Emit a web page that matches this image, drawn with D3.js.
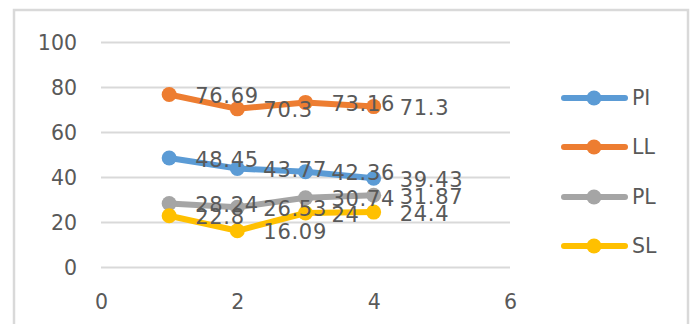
<!DOCTYPE html>
<html>
<head>
<meta charset="utf-8">
<script src="https://cdn.jsdelivr.net/npm/d3@7"></script>
<style>
  html, body { margin: 0; padding: 0; background: #fff; }
  svg { display: block; }
  text { font-family: "DejaVu Sans", sans-serif; fill: #595959; }
</style>
</head>
<body>
<svg id="chart" width="691" height="324"></svg>
<script>
// Measurement positions (x) and the four series
const xs = [1, 2, 3, 4];
const seriesNames = ["PI", "LL", "PL", "SL"];
const piValues = [48.45, 43.77, 42.36, 39.43];
const llValues = [76.69, 70.3, 73.16, 71.3];
const plValues = [28.24, 26.53, 30.74, 31.87];
const slValues = [22.8, 16.09, 24, 24.4];
const seriesColors = ["#5b9bd5", "#ed7d31", "#a5a5a5", "#ffc000"];
const xTicks = [0, 2, 4, 6];
const yTicks = [0, 20, 40, 60, 80, 100];

const series = [piValues, llValues, plValues, slValues].map((vals, i) => ({
  name: seriesNames[i],
  color: seriesColors[i],
  points: vals.map((v, j) => ({ x: xs[j], y: v }))
}));

const svg = d3.select("#chart");

// Outer chart frame
svg.append("path")
  .attr("d", "M14,330 V10 H688 V330")
  .attr("fill", "none")
  .attr("stroke", "#d9d9d9")
  .attr("stroke-width", 2.5);

const x = d3.scaleLinear().domain([0, 6]).range([101, 510]);
const y = d3.scaleLinear().domain([0, 100]).range([267, 42]);

// Horizontal gridlines with value labels
const yAxis = d3.axisLeft(y).tickValues(yTicks).tickFormat(d3.format("d"))
  .tickSize(-(x.range()[1] - x.range()[0])).tickPadding(24);
const gy = svg.append("g").attr("transform", `translate(${x.range()[0]},0)`).call(yAxis);
gy.select(".domain").remove();
gy.selectAll(".tick line").attr("stroke", "#d9d9d9").attr("stroke-width", 2);
gy.selectAll(".tick text")
  .attr("font-size", 20.5).attr("fill", "#595959")
  .attr("font-family", "DejaVu Sans, sans-serif")
  .attr("dy", "0.36em").attr("x", 77 - x.range()[0]);

// X axis labels (no axis line)
const xAxis = d3.axisBottom(x).tickValues(xTicks).tickFormat(d3.format("d"))
  .tickSize(0).tickPadding(0);
const gx = svg.append("g").attr("transform", "translate(0,302)").call(xAxis);
gx.select(".domain").remove();
gx.selectAll(".tick text")
  .attr("font-size", 20.5).attr("fill", "#595959")
  .attr("font-family", "DejaVu Sans, sans-serif")
  .attr("dy", "0.36em").attr("y", 0);

// Lines and markers
const line = d3.line().x(d => x(d.x)).y(d => y(d.y));
const sg = svg.append("g").selectAll("g").data(series).join("g");
sg.append("path")
  .attr("d", d => line(d.points))
  .attr("fill", "none")
  .attr("stroke", d => d.color)
  .attr("stroke-width", 6)
  .attr("stroke-linejoin", "round")
  .attr("stroke-linecap", "round");
sg.selectAll("circle")
  .data(d => d.points.map(p => ({ ...p, color: d.color })))
  .join("circle")
  .attr("cx", d => x(d.x))
  .attr("cy", d => y(d.y))
  .attr("r", 7.5)
  .attr("fill", d => d.color);

// Data labels to the right of each point
const lg = svg.append("g");
series.forEach(s => {
  lg.selectAll(null)
    .data(s.points)
    .join("text")
    .attr("x", d => x(d.x) + 26)
    .attr("y", d => y(d.y) + 1)
    .attr("dy", "0.36em")
    .attr("font-size", 21)
    .attr("letter-spacing", 0.7)
    .text(d => d.y);
});

// Legend
const legendY = [98, 147, 197, 246];
const leg = svg.append("g").selectAll("g").data(series).join("g")
  .attr("transform", (d, i) => `translate(0,${legendY[i]})`);
leg.append("line")
  .attr("x1", 564).attr("x2", 625)
  .attr("stroke", d => d.color).attr("stroke-width", 6)
  .attr("stroke-linecap", "round");
leg.append("circle").attr("cx", 594).attr("r", 7.5).attr("fill", d => d.color);
leg.append("text")
  .attr("x", 632).attr("dy", "0.36em")
  .attr("font-size", 20.5)
  .text(d => d.name);
</script>
</body>
</html>
